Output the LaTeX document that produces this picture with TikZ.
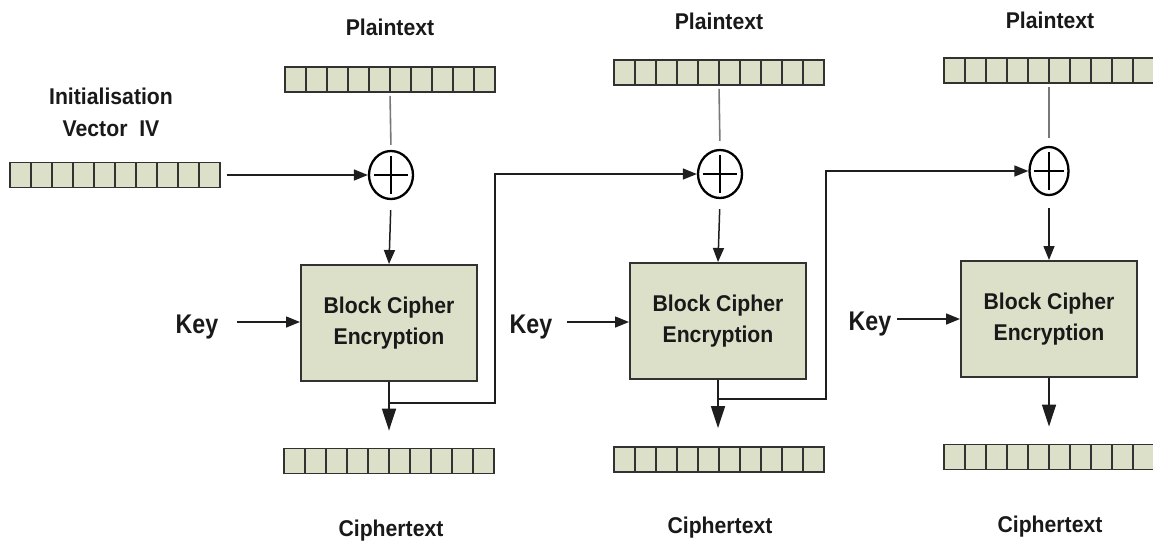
\documentclass[tikz,border=0pt]{standalone}
\usepackage{fontspec}
\setmainfont{Liberation Sans}
\newfontfamily\lblfont[FakeStretch=0.93]{Liberation Sans}
\newfontfamily\keyfont[FakeStretch=0.86]{Liberation Sans}
\usetikzlibrary{arrows.meta,calc,shapes.geometric}
\definecolor{sage}{RGB}{221,224,201}
\definecolor{edgec}{RGB}{50,50,50}
\definecolor{linec}{RGB}{30,30,30}
\definecolor{feedc}{RGB}{120,120,120}
\definecolor{txtc}{RGB}{25,25,25}
\tikzset{
  reg/.style={draw=edgec, line width=1.8pt, fill=sage, minimum width=210pt,
    minimum height=25pt, inner sep=0pt, path picture={
      \foreach \k in {1,...,9}{
        \draw[edgec, line width=1.6pt]
          ($(path picture bounding box.south west)!\k/10!(path picture bounding box.south east)$) --
          ($(path picture bounding box.north west)!\k/10!(path picture bounding box.north east)$);
      }}},
  cipherbox/.style={draw=edgec, line width=2pt, fill=sage, minimum width=176pt,
    minimum height=116pt, inner sep=0pt, align=center, text=txtc,
    font=\lblfont\bfseries\fontsize{22.8}{31}\selectfont},
  xorop/.style={ellipse, draw=black, line width=2.3pt, fill=white, inner sep=0pt,
    minimum width=44pt, minimum height=48pt},
  plusbar/.style={black, line width=2.3pt},
  lbl/.style={anchor=base, inner sep=0pt, text=txtc,
    font=\lblfont\bfseries\fontsize{22.8}{32}\selectfont},
  keylbl/.style={anchor=base, inner sep=0pt, text=txtc,
    font=\keyfont\bfseries\fontsize{27}{30}\selectfont},
  conn/.style={linec, line width=1.5pt},
  arr/.style={conn, -{Triangle[length=14pt,width=11pt]}},
  bigarr/.style={conn, -{Triangle[length=22pt,width=14pt]}},
  feed/.style={feedc, line width=1.6pt},
}
\begin{document}
\begin{tikzpicture}[x=1pt,y=-1pt]
\useasboundingbox (0,0) rectangle (1153,542);

% text labels
\node[lbl] (pt1) at (390,35) {Plaintext};
\node[lbl] (pt2) at (719,29) {Plaintext};
\node[lbl] (pt3) at (1050,28) {Plaintext};
\node[lbl] (ct1) at (391,536) {Ciphertext};
\node[lbl] (ct2) at (720,533) {Ciphertext};
\node[lbl] (ct3) at (1050,532) {Ciphertext};
\node[lbl, anchor=north, align=center] (ivl) at (111,88) {Initialisation\\Vector\ \ IV};
\node[keylbl] (k1) at (197,333) {Key};
\node[keylbl] (k2) at (531,333) {Key};
\node[keylbl] (k3) at (870,330) {Key};

% registers
\node[reg] (iv) at (115,175) {};
\node[reg] (p1) at (390,79.5) {};
\node[reg] (p2) at (719,72.5) {};
\node[reg] (p3) at (1049,70.5) {};
\node[reg] (c1) at (389,461) {};
\node[reg] (c2) at (719,459.5) {};
\node[reg] (c3) at (1049,457) {};

% block cipher stages
\node[cipherbox] (b1) at (389,323) {Block Cipher\\Encryption};
\node[cipherbox] (b2) at (718,321) {Block Cipher\\Encryption};
\node[cipherbox] (b3) at (1049,319) {Block Cipher\\Encryption};

% XOR operators
\node[xorop] (x1) at (391,175) {};
\node[xorop] (x2) at (720,174) {};
\node[xorop, minimum width=39pt] (x3) at (1049,171) {};
\foreach \n/\w in {x1/17,x2/17,x3/15}{
  \draw[plusbar] ([xshift=-\w pt]\n.center) -- ([xshift=\w pt]\n.center);
  \draw[plusbar] ([yshift=-19pt]\n.center) -- ([yshift=19pt]\n.center);
}

% plaintext into XOR
\draw[feed, shorten <=3pt, shorten >=5pt] (p1.south) -- (x1.north);
\draw[feed, shorten <=3pt, shorten >=8pt] (p2.south) -- (x2.north);
\draw[feed, shorten <=3pt, shorten >=8pt] (p3.south) -- (x3.north);

% IV into first XOR
\draw[arr, shorten <=6pt] (iv.east) -- (x1.west);

% XOR into cipher
\draw[arr, shorten <=10pt] (x1.south) -- (b1.north);
\draw[arr, shorten <=10pt] (x2.south) -- (b2.north);
\draw[arr, shorten <=12pt] (x3.south) -- (b3.north);

% keys
\coordinate (ka1) at (237,322);
\coordinate (ka2) at (567,322);
\coordinate (ka3) at (897,319);
\draw[arr] (ka1) -- (ka1 -| b1.west);
\draw[arr] (ka2) -- (ka2 -| b2.west);
\draw[arr] (ka3) -- (ka3 -| b3.west);

% cipher outputs
\draw[bigarr, shorten >=17pt] (b1.south) -- (b1.south |- c1.north);
\draw[bigarr, shorten >=18pt] (b2.south) -- (b2.south |- c2.north);
\draw[bigarr, shorten >=17pt] (b3.south) -- (b3.south |- c3.north);

% chaining of ciphertext into next XOR
\coordinate (j1) at ($(b1.south)+(0,21)$);
\coordinate (u1) at (495,0);
\coordinate (j2) at ($(b2.south)+(0,19)$);
\coordinate (u2) at (826,0);
\draw[arr, line join=miter] (j1) -- (j1 -| u1) |- (x2.west);
\draw[arr, line join=miter] (j2) -- (j2 -| u2) |- (x3.west);
\end{tikzpicture}
\end{document}
